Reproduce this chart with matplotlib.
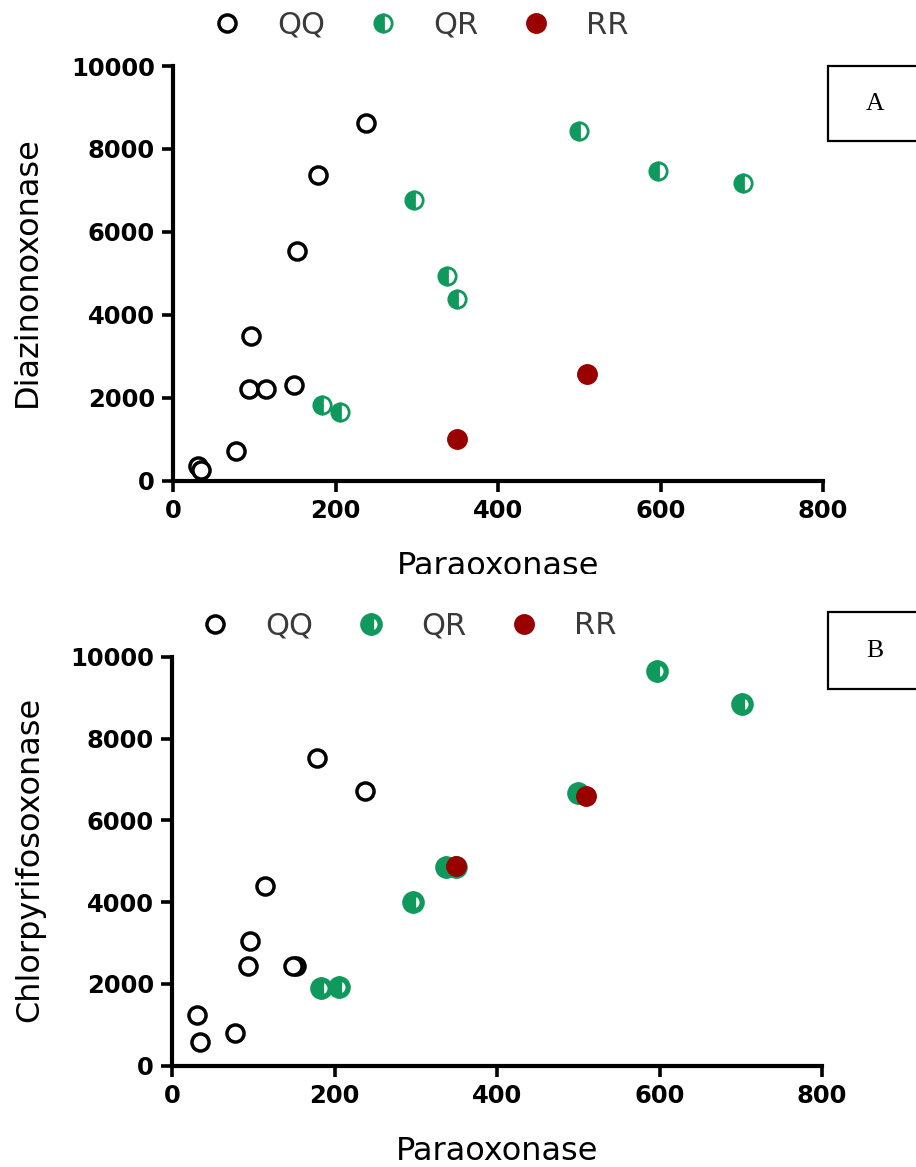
import numpy as np
import matplotlib.pyplot as plt
from matplotlib.lines import Line2D
from matplotlib.patches import Rectangle

# paraoxonase activity per genotype (same subjects in both panels)
qq_pon = [237, 179, 152, 96, 94, 114, 149, 78, 31, 34]
qr_pon = [500, 597, 702, 297, 337, 350, 183, 205]
rr_pon = [510, 350]

# panel A: diazinonoxonase
qq_dzo = [8620, 7380, 5530, 3490, 2200, 2200, 2310, 710, 360, 250]
qr_dzo = [8430, 7470, 7170, 6760, 4930, 4390, 1810, 1660]
rr_dzo = [2570, 1000]

# panel B: chlorpyrifosoxonase
qq_cpo = [6720, 7520, 2450, 3060, 2450, 4400, 2430, 790, 1240, 590]
qr_cpo = [6680, 9660, 8850, 4000, 4850, 4870, 1900, 1930]
rr_cpo = [6610, 4880]

genotypes = ['QQ', 'QR', 'RR']
xticks = [0, 200, 400, 600, 800]
yticks = [0, 2000, 4000, 6000, 8000, 10000]

GREEN = '#10995c'
RED = '#990000'

W, H = 916, 1167
fig = plt.figure(figsize=(W / 100, H / 100), dpi=100)


def px_rect(x0, y0, x1, y1):
    # pixel box (top-left origin) -> figure fraction [left, bottom, width, height]
    return [x0 / W, 1 - y1 / H, (x1 - x0) / W, (y1 - y0) / H]


def styles(mew_qr):
    qq = dict(marker='o', ms=12.3, mew=2.5, mfc='white', mec='black', ls='none')
    qr = dict(marker='o', ms=12.5, mew=mew_qr, mfc=GREEN, mfcalt='white',
              mec=GREEN, fillstyle='left', ls='none')
    rr = dict(marker='o', ms=14, mew=1, mfc=RED, mec=RED, ls='none')
    return qq, qr, rr


def panel(rect, qq_y, qr_y, rr_y, ylabel, mew_qr, ylab_x, xlab_y):
    ax = fig.add_axes(rect)
    qq, qr, rr = styles(mew_qr)
    ax.plot(qq_pon, qq_y, clip_on=False, zorder=3, **qq)
    ax.plot(qr_pon, qr_y, clip_on=False, zorder=4, **qr)
    ax.plot(rr_pon, rr_y, clip_on=False, zorder=5, **rr)
    ax.set_xlim(0, 800)
    ax.set_ylim(0, 10000)
    ax.set_xticks(xticks)
    ax.set_yticks(yticks)
    for s in ['top', 'right']:
        ax.spines[s].set_visible(False)
    for s in ['left', 'bottom']:
        ax.spines[s].set_linewidth(3)
    ax.tick_params(direction='out', length=8, width=2.6, pad=5,
                   labelsize=17.5)
    for lab in ax.get_xticklabels() + ax.get_yticklabels():
        lab.set_fontweight('bold')
    ax.set_xlabel('Paraoxonase', fontsize=23, va='top')
    ax.set_ylabel(ylabel, fontsize=23)
    ax.xaxis.set_label_coords(0.5, xlab_y)
    ax.yaxis.set_label_coords(ylab_x, 0.505)

    handles = [Line2D([], [], **qq), Line2D([], [], **qr), Line2D([], [], **rr)]
    return ax, handles


ax1, h1 = panel(px_rect(173, 66, 823, 480.5), qq_dzo, qr_dzo, rr_dzo,
                'Diazinonoxonase', 2.0, -0.2, -0.171)
ax2, h2 = panel(px_rect(172, 657, 822, 1065.7), qq_cpo, qr_cpo, rr_cpo,
                'Chlorpyrifosoxonase', 3.8, -0.195, -0.171)

leg_kw = dict(ncol=3, loc='center', frameon=False, handlelength=1.0,
              handletextpad=1.15, columnspacing=1.38, borderaxespad=0,
              prop=dict(size=22), labelcolor='#3a3a3a')
fig.legend(h1, genotypes, bbox_to_anchor=(420 / W, 1 - 25 / H), **leg_kw)
fig.legend(h2, genotypes, bbox_to_anchor=(408 / W, 1 - 626 / H), **leg_kw)

# lower edge of the top panel is cut off just under its x label
fig.patches.append(Rectangle((0, 1 - 600 / H), 1, 26 / H,
                             transform=fig.transFigure, facecolor='white',
                             edgecolor='none', zorder=10))

# panel letters in boxes
for letter, top, bot in [('A', 66, 141), ('B', 612, 689)]:
    fig.patches.append(Rectangle((828 / W, 1 - bot / H), 120 / W,
                                 (bot - top) / H, transform=fig.transFigure,
                                 facecolor='white', edgecolor='black',
                                 linewidth=1.6, zorder=11))
    fig.text(875 / W, 1 - (top + bot) / 2 / H, letter, fontsize=18.5,
             family='Liberation Serif', ha='center', va='center', zorder=12)

fig.savefig('out.png', dpi=100)
